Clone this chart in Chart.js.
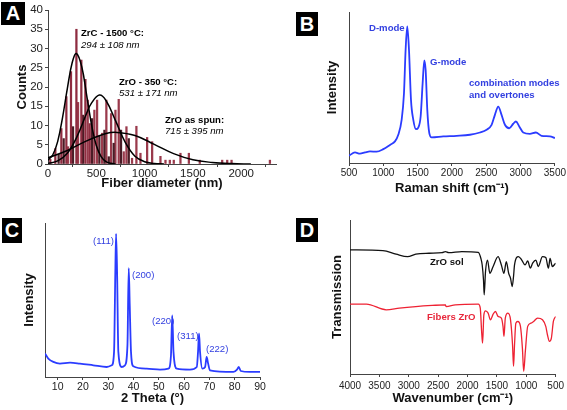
<!DOCTYPE html>
<html>
<head>
<meta charset="utf-8">
<script src="https://cdn.jsdelivr.net/npm/chart.js@4.4.1/dist/chart.umd.min.js"></script>
<style>
  html, body { margin: 0; padding: 0; background: #fff; }
  #fig { position: relative; width: 567px; height: 410px; overflow: hidden; font-family: "Liberation Sans", Arial, sans-serif; }
  .panel { position: absolute; }
  .tag { position: absolute; background: #000; color: #fff; font-weight: bold; font-size: 20px; text-align: center; }
  .note { position: absolute; font-size: 9.6px; line-height: 1; white-space: nowrap; }
  .b { font-weight: bold; }
  .i { font-style: italic; }
</style>
</head>
<body>
<div id="fig">
  <div class="panel" style="left:0;top:0;width:283px;height:205px"><canvas id="chartA"></canvas></div>
  <div class="panel" style="left:283px;top:0;width:284px;height:205px"><canvas id="chartB"></canvas></div>
  <div class="panel" style="left:0;top:205px;width:283px;height:205px"><canvas id="chartC"></canvas></div>
  <div class="panel" style="left:283px;top:205px;width:284px;height:205px"><canvas id="chartD"></canvas></div>

  <div class="tag" style="left:1px;top:2px;width:24px;height:23px;line-height:23px">A</div>
  <div class="tag" style="left:296px;top:12px;width:22px;height:24px;line-height:24px">B</div>
  <div class="tag" style="left:2px;top:218px;width:20px;height:25px;line-height:25px">C</div>
  <div class="tag" style="left:296px;top:218px;width:22px;height:24px;line-height:24px">D</div>

  <div class="note b" style="left:81px;top:28px">ZrC - 1500 °C:</div>
  <div class="note i" style="left:81px;top:40px">294 ± 108 nm</div>
  <div class="note b" style="left:119px;top:77px">ZrO - 350 °C:</div>
  <div class="note i" style="left:119px;top:88px">531 ± 171 nm</div>
  <div class="note b" style="left:165px;top:115px">ZrO as spun:</div>
  <div class="note i" style="left:165px;top:126px">715 ± 395 nm</div>

  <div class="note b" style="left:369px;top:23px;color:#3340e0">D-mode</div>
  <div class="note b" style="left:430px;top:57px;color:#3340e0">G-mode</div>
  <div class="note b" style="left:469px;top:78px;color:#3340e0">combination modes</div>
  <div class="note b" style="left:469px;top:90px;color:#3340e0">and overtones</div>

  <div class="note" style="left:93px;top:236px;color:#3340e0">(111)</div>
  <div class="note" style="left:132px;top:270px;color:#3340e0">(200)</div>
  <div class="note" style="left:152px;top:316px;color:#3340e0">(220)</div>
  <div class="note" style="left:177px;top:331px;color:#3340e0">(311)</div>
  <div class="note" style="left:206px;top:344px;color:#3340e0">(222)</div>

  <div class="note b" style="left:430px;top:257px;color:#111">ZrO sol</div>
  <div class="note b" style="left:427px;top:312px;color:#e8283c">Fibers ZrO</div>
</div>
<script>
// --- A: fibre diameter histograms + fits
const zrcDiam = [24, 76, 138, 190, 238, 294, 345, 387, 432];
const zrcCounts = [1.2, 4, 9.2, 17.5, 24, 35, 27, 22, 10.5];
const zro350Diam = [110, 162, 259, 363, 456, 532, 584, 629, 680, 756, 836];
const zro350Counts = [2.5, 6.6, 9.7, 12.7, 11.8, 7.3, 8.8, 1.9, 5.4, 8.8, 6.6];
const spunDiam = [207, 311, 411, 480, 508, 560, 604, 653, 698, 732, 784, 812, 870, 915, 957, 1026, 1078, 1164, 1216, 1261, 1302, 1371, 1458, 1571, 1803, 1855, 1900, 2297];
const spunCounts = [4.5, 16, 16.6, 14, 16.6, 8, 16.6, 13.1, 14, 16.8, 3.2, 9.7, 1.5, 9.8, 2.8, 6.9, 5.8, 2, 1, 1, 1, 2.8, 2.8, 1, 1, 1, 1, 1];
const fitZrcX = [0, 50, 100, 150, 200, 250, 294, 350, 400, 450, 500, 550, 600, 650, 700];
const fitZrcY = [1.0, 2.4, 5.8, 12, 19.6, 26.3, 28.7, 25.2, 17.9, 10.3, 4.8, 1.9, 0.6, 0.2, 0];
const fitZro350X = [0, 100, 200, 300, 400, 450, 531, 600, 700, 800, 900, 1000, 1100, 1200];
const fitZro350Y = [0.15, 0.8, 2.8, 7.1, 13.2, 15.8, 17.9, 16.5, 11.2, 5.6, 2, 0.6, 0.15, 0];
const fitSpunX = [0, 200, 400, 600, 715, 900, 1100, 1300, 1500, 1700, 1900, 2100];
const fitSpunY = [1.6, 3.5, 6.0, 7.9, 8.2, 7.4, 5.1, 2.7, 1.1, 0.4, 0.1, 0];
const diamTicks = [0, 500, 1000, 1500, 2000];
const countTicks = [0, 5, 10, 15, 20, 25, 30, 35, 40];

// --- B: Raman spectrum
const ramanShift = [500, 587, 660, 733, 806, 903, 1000, 1097, 1170, 1218, 1267, 1301, 1325, 1349, 1374, 1403, 1437, 1476, 1510, 1544, 1573, 1597, 1617, 1641, 1670, 1704, 1874, 2068, 2262, 2408, 2505, 2578, 2626, 2675, 2723, 2772, 2835, 2893, 2932, 2981, 3039, 3136, 3223, 3306, 3427, 3500];
const ramanIntensity = [4.8, 7, 6.2, 7, 7.7, 7.5, 9.2, 12, 14.3, 18.7, 28.6, 46, 75, 90.5, 75, 42, 28.6, 22.4, 23.5, 30.8, 52.7, 68, 61.5, 35, 19.8, 17, 17.6, 18, 18.7, 20.2, 22, 25.3, 31.9, 37.4, 31.9, 25.3, 23, 26, 27.5, 24.2, 20.2, 19.3, 20.2, 18, 17.6, 16.5];
const ramanTicks = [500, 1000, 1500, 2000, 2500, 3000, 3500];

// --- C: XRD pattern
const twoTheta = [5, 6.3, 8.3, 10.9, 14.9, 18.8, 24.1, 29.4, 31.4, 32.3, 32.8, 33.1, 33.5, 34, 35.3, 36.6, 37.6, 38.1, 38.5, 39, 39.9, 45.2, 50.5, 53.8, 54.8, 55.3, 55.8, 57.1, 62.3, 65, 65.5, 65.9, 66.3, 67.2, 68.3, 68.9, 69.5, 70.2, 79.5, 81, 81.6, 82.4, 86, 90];
const xrdIntensity = [15.2, 12, 9.8, 8.7, 9.3, 8.7, 7.6, 6.5, 7.6, 16.3, 68, 93, 68, 16.3, 6.5, 7.6, 20.7, 70.7, 46.7, 16.3, 7, 5.4, 4.8, 5.4, 14, 40, 16.3, 5.4, 4.8, 6.5, 16.3, 28.3, 16.3, 5.4, 6.5, 13, 8.7, 4.3, 3.3, 5, 6.5, 3.9, 3.3, 3.3];
const thetaTicks = [10, 20, 30, 40, 50, 60, 70, 80, 90];

// --- D: FTIR spectra
const solWave = [4000, 3440, 3216, 3020, 2880, 2656, 2432, 2376, 2320, 2096, 1816, 1772, 1750, 1728, 1716, 1694, 1660, 1620, 1564, 1480, 1424, 1380, 1340, 1300, 1268, 1240, 1217, 1200, 1133, 1077, 1021, 976, 931, 892, 836, 797, 724, 668, 623, 595, 556, 500];
const solTrans = [80.6, 80.1, 77.8, 76.2, 77.8, 78.4, 78.8, 79.5, 78.8, 79.5, 79, 75, 70.8, 61, 51.4, 66.5, 74, 65.4, 69.8, 76.2, 70.8, 65.4, 73, 65.4, 62.2, 56.8, 63.3, 70.8, 76.2, 74, 70.8, 73.4, 68.7, 72, 74, 69.8, 76.2, 75.6, 68.7, 75, 69.8, 72];
const fiberWave = [4000, 3720, 3384, 3160, 2880, 2600, 2376, 2366, 2208, 1816, 1783, 1760, 1744, 1722, 1694, 1649, 1610, 1564, 1525, 1480, 1424, 1396, 1380, 1357, 1312, 1268, 1234, 1217, 1200, 1178, 1144, 1099, 1066, 1044, 1016, 976, 920, 876, 808, 724, 668, 640, 606, 573, 539, 500];
const fiberTrans = [45.4, 45.4, 41.7, 42.8, 43.8, 44.5, 44.9, 43.8, 44.9, 45.4, 42.8, 27.6, 20, 38.4, 41, 39.5, 35.2, 38.9, 40.6, 37.4, 36.3, 30.9, 24.4, 36.3, 39.5, 35.2, 19, 5, 19, 33, 34.1, 30.9, 16.8, 1.7, 14.7, 30.9, 33, 34.1, 36.3, 35.2, 30.9, 25.5, 21.2, 23.3, 34.1, 37.4];
const waveTicks = [4000, 3500, 3000, 2500, 2000, 1500, 1000, 500];

const FONT = '"Liberation Sans", Arial, sans-serif';
Chart.defaults.font.family = FONT;
Chart.defaults.color = "#222";
Chart.defaults.animation = false;

const zip = (xs, ys) => xs.map((x, i) => ({ x, y: ys[i] }));
const AXIS = "#444";

// fixed tick list, no locale commas
const fixTicks = (values) => (scale) => {
  scale.ticks = values.map((v) => ({ value: v }));
};

function xAxis(opts) {
  return {
    type: "linear",
    min: opts.min,
    max: opts.max,
    reverse: !!opts.reverse,
    offset: false,
    afterBuildTicks: fixTicks(opts.ticks),
    afterFit: (scale) => { scale.height = opts.height; },
    border: { display: true, color: AXIS, width: 1 },
    grid: { drawOnChartArea: false, drawTicks: true, tickLength: 3, color: AXIS },
    ticks: {
      autoSkip: false, maxRotation: 0, padding: opts.tickPad,
      font: { size: opts.tickSize }, color: "#222",
      callback: (v) => String(v),
    },
    title: { display: true, text: opts.title, font: { size: 13, weight: "bold" }, color: "#111", padding: { top: 0, bottom: opts.titlePad } },
  };
}

function yAxis(opts) {
  return {
    min: opts.min,
    max: opts.max,
    afterBuildTicks: opts.ticks ? fixTicks(opts.ticks) : undefined,
    afterFit: (scale) => { scale.width = opts.width; },
    border: { display: true, color: AXIS, width: 1 },
    grid: { drawOnChartArea: false, drawTicks: !!opts.ticks, tickLength: 3, color: AXIS },
    ticks: opts.ticks
      ? { autoSkip: false, padding: 2, font: { size: 11.5 }, color: "#222", callback: (v) => String(v) }
      : { display: false },
    title: { display: true, text: opts.title, font: { size: 13, weight: "bold" }, color: "#111", padding: { top: opts.titlePad, bottom: 0 } },
  };
}

function baseOptions(pad, x, y) {
  return {
    responsive: true,
    maintainAspectRatio: false,
    animation: false,
    layout: { padding: pad },
    plugins: { legend: { display: false }, tooltip: { enabled: false } },
    scales: { x, y },
  };
}

function lineSet(xs, ys, color, width) {
  return {
    type: "line",
    data: zip(xs, ys),
    borderColor: color,
    borderWidth: width,
    pointRadius: 0,
    fill: false,
    cubicInterpolationMode: "monotone",
  };
}

function fitSet(xs, ys) {
  return { ...lineSet(xs, ys, "#000", 1.5), cubicInterpolationMode: "default", tension: 0.4, order: 1 };
}

function barSet(xs, ys, color) {
  return { type: "bar", data: zip(xs, ys), backgroundColor: color, barThickness: 1.6, grouped: false, order: 2 };
}

// A
new Chart(document.getElementById("chartA"), {
  type: "bar",
  data: {
    datasets: [
      fitSet(fitZrcX, fitZrcY),
      fitSet(fitZro350X, fitZro350Y),
      fitSet(fitSpunX, fitSpunY),
      barSet(zrcDiam, zrcCounts, "#8e2c40"),
      barSet(zro350Diam, zro350Counts, "#4a1c26"),
      barSet(spunDiam, spunCounts, "#9a3a4c"),
    ],
  },
  options: baseOptions(
    { left: 0, top: 10, right: 7, bottom: 0 },
    xAxis({ min: 0, max: 2360, ticks: diamTicks, tickSize: 11.5, height: 41, tickPad: 0, title: "Fiber diameter (nm)", titlePad: 14 }),
    yAxis({ min: 0, max: 40, ticks: countTicks, width: 48, title: "Counts", titlePad: 15 }),
  ),
});

// B
new Chart(document.getElementById("chartB"), {
  type: "line",
  data: { datasets: [lineSet(ramanShift, ramanIntensity, "#2b3cff", 1.8)] },
  options: baseOptions(
    { left: 0, top: 12, right: 12, bottom: 0 },
    xAxis({ min: 500, max: 3500, ticks: ramanTicks, tickSize: 10, height: 42, tickPad: 1, title: "Raman shift (cm⁻¹)", titlePad: 9 }),
    yAxis({ min: 0, max: 100, width: 66, title: "Intensity", titlePad: 42 }),
  ),
});

// C
new Chart(document.getElementById("chartC"), {
  type: "line",
  data: { datasets: [lineSet(twoTheta, xrdIntensity, "#2b3cff", 1.8)] },
  options: baseOptions(
    { left: 0, top: 18, right: 23, bottom: 0 },
    xAxis({ min: 5, max: 90, ticks: thetaTicks, tickSize: 10.5, height: 33, tickPad: 1, title: "2 Theta (°)", titlePad: 4 }),
    yAxis({ min: 0, max: 100, width: 45, title: "Intensity", titlePad: 22 }),
  ),
});

// D
new Chart(document.getElementById("chartD"), {
  type: "line",
  data: {
    datasets: [
      lineSet(solWave, solTrans, "#111", 1.3),
      lineSet(fiberWave, fiberTrans, "#ee2233", 1.3),
    ],
  },
  options: baseOptions(
    { left: 0, top: 15, right: 9, bottom: 0 },
    xAxis({ min: 500, max: 4000, reverse: true, ticks: waveTicks, tickSize: 10, height: 36, tickPad: 3, title: "Wavenumber (cm⁻¹)", titlePad: 4 }),
    yAxis({ min: 0, max: 100, width: 67, title: "Transmission", titlePad: 47 }),
  ),
});
</script>
</body>
</html>
